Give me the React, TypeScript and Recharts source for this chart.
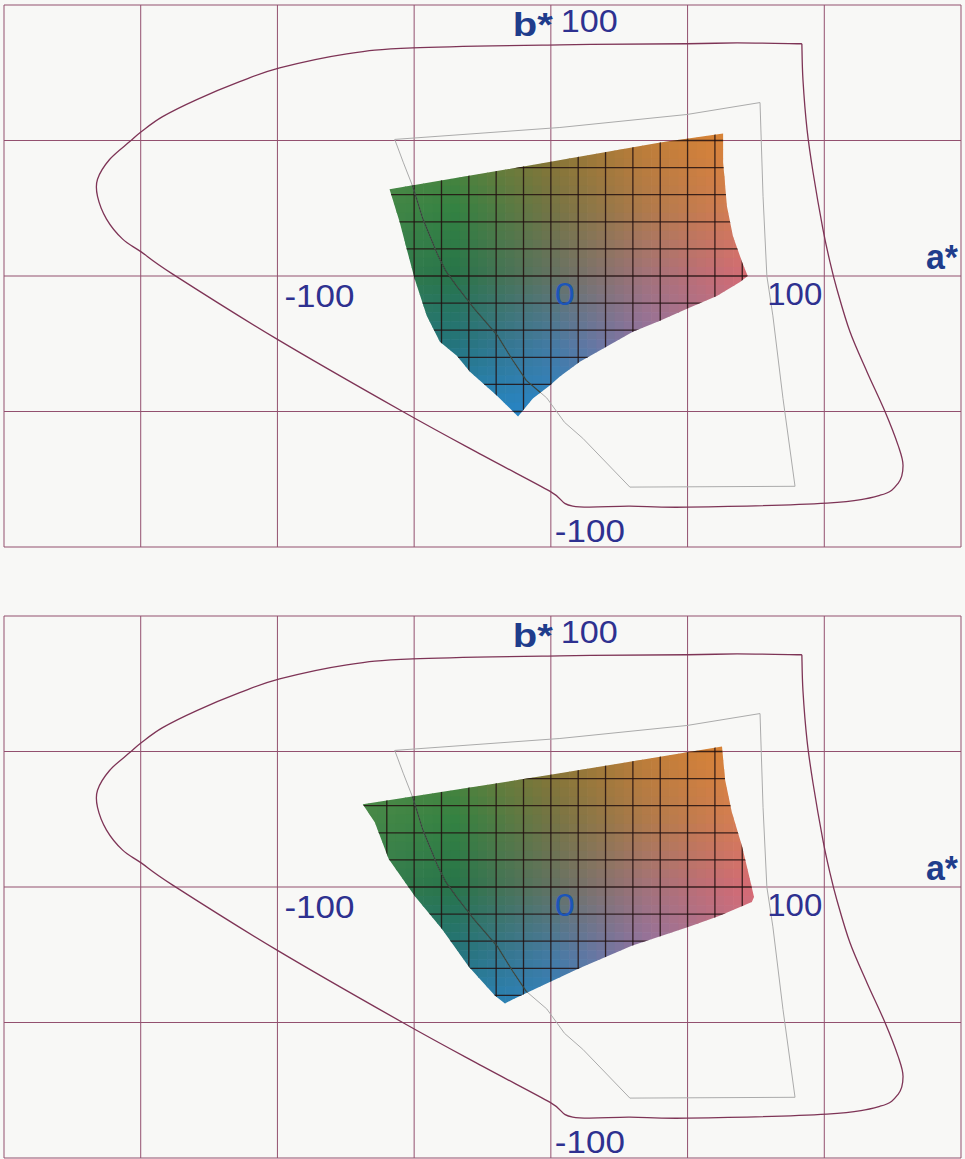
import { ScatterChart, Scatter, XAxis, YAxis, ReferenceLine, ReferenceDot } from "recharts";

// main grid of the a*b* plane (every 50 units)
const gridA = [-200, -150, -100, -50, 0, 50, 100, 150];
const gridB = [-100, -50, 0, 50, 100];

// outer gamut (maroon outline), a*, b*
const outerGamut = [
  [91.8, 85.7], [68.1, 86.0], [49.8, 85.7], [3.3, 85.3], [-50.5, 84.2], [-74.6, 82.0],
  [-99.2, 76.8], [-113.8, 71.7], [-129.5, 65.1], [-142.0, 58.8], [-149.7, 53.3],
  [-154.0, 49.6], [-161.4, 43.0], [-165.8, 35.7], [-165.8, 29.4], [-162.5, 21.0],
  [-156.6, 13.6], [-149.7, 8.8], [-138.3, 0.7], [-100.3, -23.2], [-54.2, -50.0],
  [-24.9, -66.2], [-0.4, -79.4], [8.0, -84.9], [28.9, -84.9], [49.8, -85.3],
  [101.0, -83.8], [120.4, -80.9], [127.0, -76.5], [128.8, -69.9], [127.0, -62.5],
  [122.2, -50.0], [115.6, -35.3], [109.4, -20.6], [104.6, -4.8], [102.1, 5.1],
  [99.5, 17.3], [95.9, 38.2], [93.7, 54.0], [92.2, 72.4], [91.8, 85.7],
];

// inner gamut (thin grey outline)
const innerGamut = [
  [-57.1, 50.4], [3.3, 54.8], [49.8, 59.6], [76.5, 64.0], [77.6, 29.4], [79.0, 0],
  [81.2, -14.7], [84.9, -45.2], [89.3, -77.6], [28.9, -77.9], [11.7, -59.9], [5.0, -54.0],
  [-1.5, -45.0], [-9.0, -38.5], [-14.0, -31.0], [-19.5, -22.0], [-28.0, -12.0],
  [-34.4, -3.7], [-38.5, 2.0], [-41.5, 8.0], [-46.8, 21.0], [-50.5, 33.0], [-54.0, 42.0],
];

// coloured gamut outline, upper figure
const topMesh = [
  [-59, 32], [-10, 40.4], [40, 49.3], [63, 52.6], [63, 42], [64.4, 25.7], [66.6, 14.7],
  [70, 5], [72, 0], [69.2, -2.2], [60.7, -7.4], [49.8, -12.1], [39.9, -16.5], [30, -20.6],
  [19, -26.8], [10.6, -31.6], [3.3, -37.1], [-0.4, -40.4], [-6.6, -45.2], [-12, -51.8],
  [-19.8, -44.1], [-29.6, -35.3], [-34.4, -29.4], [-40.6, -24.3], [-45.4, -14.7],
  [-49.8, -1.1], [-52.7, 9.9], [-55.3, 19.9],
];

// coloured gamut outline, lower figure
const bottomMesh = [
  [-68.8, 30.5], [0.4, 41.5], [62.6, 51.8], [63.7, 39.7], [66.2, 27.6], [69.9, 15.1],
  [72.8, 2.9], [74.3, -3.7], [73.5, -5.5], [61.5, -10.7], [50.5, -14.7], [29.6, -21.7],
  [10.2, -30.1], [-3.3, -36.4], [-14, -41.5], [-16.8, -43], [-20.5, -40], [-30, -29.4],
  [-39.9, -15.4], [-49.8, -3.3], [-59.3, 10.3], [-64.4, 23.9],
];

// mesh lines inside the coloured area (every 10 units)
const meshA = [-80, -70, -60, -50, -40, -30, -20, -10, 0, 10, 20, 30, 40, 50, 60, 70, 80];
const meshB = [60, 50, 40, 30, 20, 10, 0, -10, -20, -30, -40, -50, -60];

// colour anchors read from the print
const colorA = [-70, -35, 0, 35, 75];
const colorB = [55, 25, 0, -25, -55];
const colorRows = [
  ["#54904a", "#62843a", "#92762e", "#c27e34", "#e48634"],
  ["#488848", "#348242", "#747444", "#b07a4a", "#dc7e54"],
  ["#388050", "#28744a", "#627262", "#a2727a", "#d86a74"],
  ["#287a7a", "#24747c", "#447aa2", "#9272a2", "#c4728a"],
  ["#228ac4", "#2488cc", "#2486cc", "#547cbc", "#9472ac"],
];

const toPts = (list: number[][]) => list.map(([a, b]) => ({ a, b }));
const latticePts = meshB.flatMap((b) => meshA.map((a) => ({ a, b })));

const FONT = "'Liberation Sans', Arial, Helvetica, sans-serif";
const W = 965;
const H = 552;
const SUB = 3;

const hex = (c: string) => [1, 3, 5].map((i) => parseInt(c.slice(i, i + 2), 16));
const mix = (c1: number[], c2: number[], t: number) => c1.map((v, i) => v + (c2[i] - v) * t);

function seg(list: number[], v: number, desc: boolean) {
  for (let i = 0; i < list.length - 1; i++) {
    const lo = desc ? list[i + 1] : list[i];
    const hi = desc ? list[i] : list[i + 1];
    if (v >= lo && v <= hi) return { i, t: desc ? (list[i] - v) / (list[i] - list[i + 1]) : (v - list[i]) / (list[i + 1] - list[i]) };
  }
  const first = desc ? v > list[0] : v < list[0];
  return first ? { i: 0, t: 0 } : { i: list.length - 2, t: 1 };
}

function meshColor(a: number, b: number) {
  const sa = seg(colorA, a, false);
  const sb = seg(colorB, b, true);
  const top = mix(hex(colorRows[sb.i][sa.i]), hex(colorRows[sb.i][sa.i + 1]), sa.t);
  const bot = mix(hex(colorRows[sb.i + 1][sa.i]), hex(colorRows[sb.i + 1][sa.i + 1]), sa.t);
  const c = mix(top, bot, sb.t).map((v) => Math.round(v));
  return `rgb(${c[0]},${c[1]},${c[2]})`;
}

type XY = { x: number; y: number };

const pathOf = (pts: XY[], close: boolean) =>
  pts.map((p, i) => `${i ? "L" : "M"}${p.x},${p.y}`).join("") + (close ? "Z" : "");

// catmull-rom through the traced points, ends stay sharp
function smoothPath(pts: XY[]) {
  let d = `M${pts[0].x},${pts[0].y}`;
  for (let i = 0; i < pts.length - 1; i++) {
    const p0 = pts[i - 1] || pts[i];
    const p1 = pts[i];
    const p2 = pts[i + 1];
    const p3 = pts[i + 2] || p2;
    const c1x = p1.x + (p2.x - p0.x) / 6;
    const c1y = p1.y + (p2.y - p0.y) / 6;
    const c2x = p2.x - (p3.x - p1.x) / 6;
    const c2y = p2.y - (p3.y - p1.y) / 6;
    d += `C${c1x},${c1y} ${c2x},${c2y} ${p2.x},${p2.y}`;
  }
  return d;
}

const NoDot = () => <g />;

function MeshGrid({ points, clipId }: { points: XY[]; clipId: string }) {
  const nA = meshA.length;
  const at = (r: number, c: number) => points[r * nA + c];
  const cells = [];
  for (let r = 0; r < meshB.length - 1; r++) {
    for (let c = 0; c < nA - 1; c++) {
      const p0 = at(r, c);
      const p1 = at(r + 1, c + 1);
      const w = (p1.x - p0.x) / SUB;
      const h = (p1.y - p0.y) / SUB;
      for (let i = 0; i < SUB; i++) {
        for (let j = 0; j < SUB; j++) {
          const a = meshA[c] + ((meshA[c + 1] - meshA[c]) * (i + 0.5)) / SUB;
          const b = meshB[r] + ((meshB[r + 1] - meshB[r]) * (j + 0.5)) / SUB;
          cells.push(
            <rect key={`${r}-${c}-${i}-${j}`} x={p0.x + w * i} y={p0.y + h * j} width={w + 0.6} height={h + 0.6} fill={meshColor(a, b)} />
          );
        }
      }
    }
  }
  const lines = [];
  for (let c = 0; c < nA; c++) {
    const p0 = at(0, c);
    const p1 = at(meshB.length - 1, c);
    lines.push(<line key={`v${c}`} x1={p0.x} y1={p0.y} x2={p1.x} y2={p1.y} />);
  }
  for (let r = 0; r < meshB.length; r++) {
    const p0 = at(r, 0);
    const p1 = at(r, nA - 1);
    lines.push(<line key={`h${r}`} x1={p0.x} y1={p0.y} x2={p1.x} y2={p1.y} />);
  }
  return (
    <g clipPath={`url(#${clipId})`}>
      {cells}
      <g stroke="#221010" strokeOpacity={0.85} strokeWidth={1.3}>{lines}</g>
    </g>
  );
}

function Tag(props: any) {
  const { viewBox, t, ox, oy, tl, fs, fw, col } = props;
  return (
    <text x={viewBox.x + ox} y={viewBox.y + oy} fontSize={fs} fontWeight={fw} fill={col}
      fontFamily={FONT} textLength={tl} lengthAdjust="spacingAndGlyphs">
      {t}
    </text>
  );
}

const NAVY = "#2e3190";
const AXIS_BLUE = "#1f3d8c";
const GRID = "#93506f";

function GamutPanel({ mesh, clipId, top }: { mesh: number[][]; clipId: string; top: number }) {
  return (
    <div style={{ position: "absolute", left: 0, top }}>
      <ScatterChart width={W} height={H} margin={{ top: 5, right: 4, bottom: 5, left: 4 }}>
        <XAxis type="number" dataKey="a" domain={[-200, 150]} hide allowDataOverflow />
        <YAxis type="number" dataKey="b" domain={[-100, 100]} hide allowDataOverflow />
        {gridA.map((v) => (
          <ReferenceLine key={`ga${v}`} x={v} stroke={GRID} strokeWidth={1} />
        ))}
        {gridB.map((v) => (
          <ReferenceLine key={`gb${v}`} y={v} stroke={GRID} strokeWidth={1} />
        ))}
        <Scatter data={toPts(mesh)} shape={NoDot} isAnimationActive={false}
          line={(p: any) => (
            <defs>
              <clipPath id={clipId}>
                <path d={pathOf(p.points, true)} />
              </clipPath>
            </defs>
          )}
        />
        <Scatter data={latticePts} shape={NoDot} isAnimationActive={false}
          line={(p: any) => <MeshGrid points={p.points} clipId={clipId} />}
        />
        <Scatter data={toPts(innerGamut)} shape={NoDot} isAnimationActive={false}
          line={(p: any) => (
            <g fill="none">
              <path d={pathOf(p.points, true)} stroke="#ababab" strokeWidth={1} />
              <path d={pathOf(p.points, true)} stroke="#1c2a20" strokeOpacity={0.8} strokeWidth={1.2}
                clipPath={`url(#${clipId})`} />
            </g>
          )}
        />
        <Scatter data={toPts(outerGamut)} shape={NoDot} isAnimationActive={false}
          line={(p: any) => (
            <path d={smoothPath(p.points)} fill="none" stroke="#7e3456" strokeWidth={1.3} />
          )}
        />
        <ReferenceDot x={0} y={100} r={0} ifOverflow="visible"
          label={<Tag t="b*" ox={-38} oy={31} tl={40} fs={34} fw={700} col={AXIS_BLUE} />} />
        <ReferenceDot x={0} y={100} r={0} ifOverflow="visible"
          label={<Tag t="100" ox={10} oy={27} tl={57} fs={31} fw={400} col={NAVY} />} />
        <ReferenceDot x={150} y={0} r={0} ifOverflow="visible"
          label={<Tag t="a*" ox={-35} oy={-7} tl={32} fs={35} fw={700} col={AXIS_BLUE} />} />
        <ReferenceDot x={-100} y={0} r={0} ifOverflow="visible"
          label={<Tag t="-100" ox={7} oy={31} tl={70} fs={32} fw={400} col={NAVY} />} />
        <ReferenceDot x={0} y={0} r={0} ifOverflow="visible"
          label={<Tag t="0" ox={4} oy={29} tl={20} fs={32} fw={400} col="#1c55b8" />} />
        <ReferenceDot x={100} y={0} r={0} ifOverflow="visible"
          label={<Tag t="100" ox={-57} oy={29} tl={55} fs={32} fw={400} col={NAVY} />} />
        <ReferenceDot x={0} y={-100} r={0} ifOverflow="visible"
          label={<Tag t="-100" ox={4} oy={-5} tl={70} fs={32} fw={400} col={NAVY} />} />
      </ScatterChart>
    </div>
  );
}

export default function App() {
  return (
    <div style={{ position: "absolute", left: 0, top: 0, width: 965, height: 1159, background: "#f8f8f6", overflow: "hidden" }}>
      <GamutPanel mesh={topMesh} clipId="gamut-clip-top" top={0} />
      <GamutPanel mesh={bottomMesh} clipId="gamut-clip-bottom" top={611} />
    </div>
  );
}
